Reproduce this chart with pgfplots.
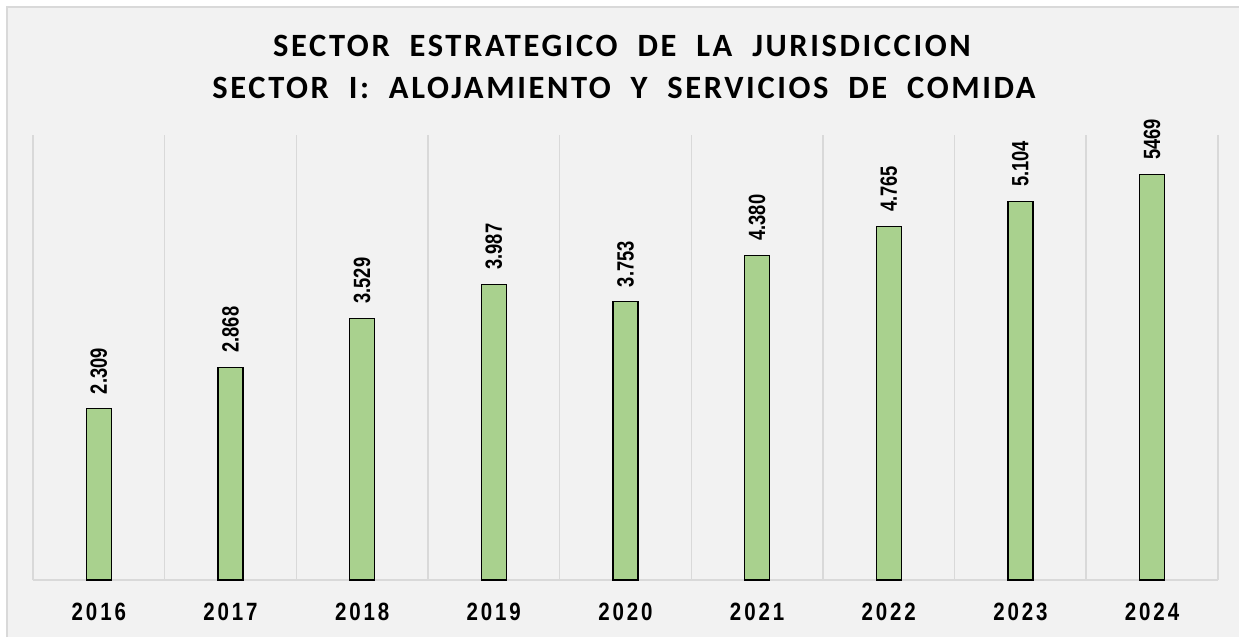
\documentclass[border=0pt]{standalone}
\usepackage{pgfplots}
\pgfplotsset{compat=1.18}
\usepackage{fontspec}
\setmainfont{Liberation Sans}
\newfontfamily\titlefont[LetterSpace=8]{Carlito}
\newfontfamily\tickfont[LetterSpace=14]{Liberation Sans}
\definecolor{bg}{HTML}{F2F2F2}
\definecolor{gridc}{HTML}{D9D9D9}
\definecolor{barc}{HTML}{A9D18E}
\newcommand\tl[1]{\scalebox{0.82}[1]{#1}}

\begin{document}
\begin{tikzpicture}[x=1pt,y=1pt]
\useasboundingbox (0,0) rectangle (1239,637);
\fill[white] (0,0) rectangle (1239,637);
\fill[bg] (7,0) rectangle (1239,630);
\draw[gridc, line width=1.5pt] (7,0) -- (7,630) -- (1239,630);

% title, two lines
\node[anchor=base, font=\titlefont\bfseries\fontsize{32.5}{40}\selectfont]
  at (622,580) {SECTOR\ \ ESTRATEGICO\ \ DE\ \ LA\ \ JURISDICCION};
\node[anchor=base, font=\titlefont\bfseries\fontsize{32.5}{40}\selectfont]
  at (624,538) {SECTOR\ \ I:\ \ ALOJAMIENTO\ \ Y\ \ SERVICIOS\ \ DE\ \ COMIDA};

\begin{axis}[
    at={(33pt,57pt)}, anchor=south west,
    scale only axis,
    width=1185pt, height=445pt,
    ybar,
    bar width=25pt,
    xmin=-0.5, xmax=8.5,
    ymin=0, ymax=6000,
    axis x line*=bottom,
    axis y line=none,
    x axis line style={gridc, line width=1.5pt},
    xtick={0,...,8},
    xticklabels={\tl{2016},\tl{2017},\tl{2018},\tl{2019},\tl{2020},\tl{2021},\tl{2022},\tl{2023},\tl{2024}},
    xticklabel style={font=\tickfont\bfseries\fontsize{25}{25}\selectfont, inner sep=0pt, yshift=-23pt},
    major tick length=0pt,
    minor xtick={-0.5,0.5,...,8.5},
    minor tick length=0pt,
    xminorgrids=true,
    minor grid style={gridc, line width=1.5pt},
    ytick=\empty,
    clip=false,
    point meta=explicit symbolic,
    nodes near coords={\scalebox{0.78}[1]{\pgfplotspointmeta}},
    nodes near coords style={font=\bfseries\fontsize{23.5}{24}\selectfont,
        rotate=90, anchor=west, inner ysep=0pt, inner xsep=14pt},
]
\addplot[fill=barc, draw=black, line width=1.3pt] coordinates {
    (0,2309) [2.309]
    (1,2868) [2.868]
    (2,3529) [3.529]
    (3,3987) [3.987]
    (4,3753) [3.753]
    (5,4380) [4.380]
    (6,4765) [4.765]
    (7,5104) [5.104]
    (8,5469) [5469]
};
\end{axis}
\end{tikzpicture}
\end{document}
